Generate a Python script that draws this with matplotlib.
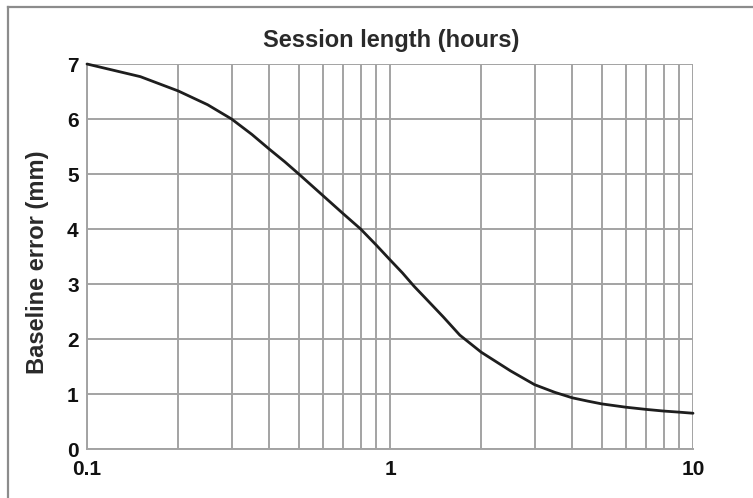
import matplotlib
matplotlib.use("Agg")
import matplotlib.pyplot as plt
from matplotlib.lines import Line2D
from matplotlib.ticker import FixedLocator, NullFormatter

# Data
hours = [0.1, 0.15, 0.2, 0.25, 0.3, 0.35, 0.4, 0.45, 0.5, 0.6, 0.7, 0.8, 0.9, 1.0,
         1.1, 1.2, 1.3, 1.5, 1.7, 2.0, 2.5, 3.0, 3.5, 4.0, 4.5, 5.0, 6.0, 7.0, 8.0, 9.0, 10.0]
error_mm = [7.0, 6.77, 6.51, 6.26, 6.0, 5.72, 5.45, 5.22, 5.0, 4.61, 4.28, 4.0, 3.71, 3.44,
            3.20, 2.96, 2.76, 2.40, 2.07, 1.76, 1.42, 1.17, 1.03, 0.93, 0.87, 0.82, 0.76, 0.72, 0.69, 0.67, 0.65]

x_major = [0.1, 1, 10]
x_major_labels = ["0.1", "1", "10"]
x_minor = [0.2, 0.3, 0.4, 0.5, 0.6, 0.7, 0.8, 0.9, 2, 3, 4, 5, 6, 7, 8, 9]
y_ticks = [0, 1, 2, 3, 4, 5, 6, 7]

title_text = "Session length (hours)"
ylabel_text = "Baseline error (mm)"

plt.rcParams['font.family'] = ['Liberation Sans', 'DejaVu Sans']

fig = plt.figure(figsize=(7.53, 4.98), dpi=100)
ax = fig.add_axes([87 / 753, 1 - 449 / 498, (693 - 87) / 753, (449 - 64) / 498])

grid_col = "#a3a3a3"
ax.set_xscale("log")
ax.set_xlim(0.1, 10)
ax.set_ylim(0, 7)

ax.xaxis.set_major_locator(FixedLocator(x_major))
ax.set_xticklabels(x_major_labels)
ax.xaxis.set_minor_locator(FixedLocator(x_minor))
ax.xaxis.set_minor_formatter(NullFormatter())
ax.set_yticks(y_ticks)

ax.grid(True, which="both", axis="x", color=grid_col, lw=1.4)
ax.grid(True, which="major", axis="y", color=grid_col, lw=1.4)
ax.set_axisbelow(True)

for s in ["top", "right"]:
    ax.spines[s].set_visible(False)
for s in ["left", "bottom"]:
    ax.spines[s].set_color(grid_col)
    ax.spines[s].set_linewidth(1.4)

ax.tick_params(axis="both", which="both", length=0, colors="#111111")
ax.tick_params(axis="both", which="major", labelsize=15)
for lab in ax.get_xticklabels() + ax.get_yticklabels():
    lab.set_fontweight("bold")
ax.tick_params(axis="x", pad=8)
ax.tick_params(axis="y", pad=6)

ax.plot(hours, error_mm, color="#1e1e1e", lw=2.0, solid_capstyle="round",
        solid_joinstyle="round", clip_on=False, zorder=3)

fig.text((252 + 530) / 2 / 753, 1 - 40 / 498, title_text, ha="center", va="center",
         fontsize=17, fontweight="bold", color="#2a2a2a")
fig.text(38 / 753, 1 - 262 / 498, ylabel_text, ha="center", va="center", rotation=90,
         fontsize=17, fontweight="bold", color="#2a2a2a")

# outer frame (left and top edges visible)
fig.add_artist(Line2D([8 / 753, 8 / 753], [0, 1 - 7 / 498], transform=fig.transFigure,
                      color="#8c8c8c", lw=1.6))
fig.add_artist(Line2D([8 / 753, 1], [1 - 7 / 498, 1 - 7 / 498], transform=fig.transFigure,
                      color="#8c8c8c", lw=1.6))

fig.savefig("out.png", dpi=100, facecolor="white")
